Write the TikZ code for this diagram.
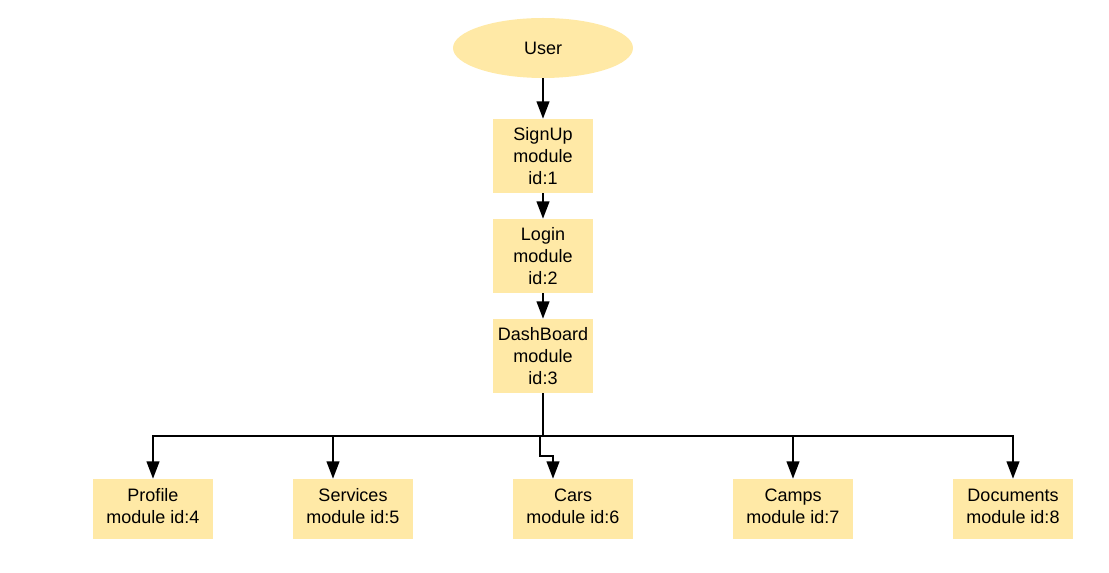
\documentclass[tikz,border=0pt]{standalone}
\usepackage{fontspec}
\setmainfont{Liberation Sans}
\usetikzlibrary{shapes.geometric, arrows.meta, positioning}
\definecolor{modfill}{HTML}{FFE9A6}

\tikzset{
  module/.style={rectangle, fill=modfill, minimum width=75pt, minimum height=55.5pt, inner sep=0pt, align=center, font=\fontsize{13.5}{16.5}\selectfont},
  leaf/.style={module, minimum width=90pt, minimum height=45pt, text depth=4pt},
  actor/.style={ellipse, fill=modfill, minimum width=135pt, minimum height=45pt, inner sep=0pt, font=\fontsize{13.5}{16.5}\selectfont},
  link/.style={line width=1.5pt, -{Triangle[length=13pt, width=9.5pt]}},
  plain/.style={line width=1.5pt}
}

\begin{document}
\begin{tikzpicture}[x=0.75pt, y=-0.75pt]
\useasboundingbox (0,0) rectangle (1109,573);

% user and the chain of modules
\node[actor] (user) at (543,48) {User};
\node[module] (signup) at (543,156) {SignUp\\module\\id:1};
\node[module] (login) at (543,256) {Login\\module\\id:2};
\node[module] (dash) at (543,356) {DashBoard\\module\\id:3};

% modules reached from the dashboard
\node[leaf] (profile) at (153,509) {Profile\\module id:4};
\node[leaf] (services) at (353,509) {Services\\module id:5};
\node[leaf] (cars) at (573,509) {Cars\\module id:6};
\node[leaf] (camps) at (793,509) {Camps\\module id:7};
\node[leaf] (docs) at (1013,509) {Documents\\module id:8};

\draw[link] (user) -- (signup);
\draw[link] (signup) -- (login);
\draw[link] (login) -- (dash);

% branch line below the dashboard
\coordinate (bus) at (543,436);
\draw[plain] (dash) -- (bus);
\draw[link] (bus) -| (profile);
\draw[link] (bus) -| ([xshift=-15pt]services.north);
\draw[link] ([xshift=-2.25pt]bus) -- ++(0,20) -| ([xshift=-15pt]cars.north);
\draw[link] (bus) -| (camps);
\draw[link] (bus) -| (docs);

\end{tikzpicture}
\end{document}
